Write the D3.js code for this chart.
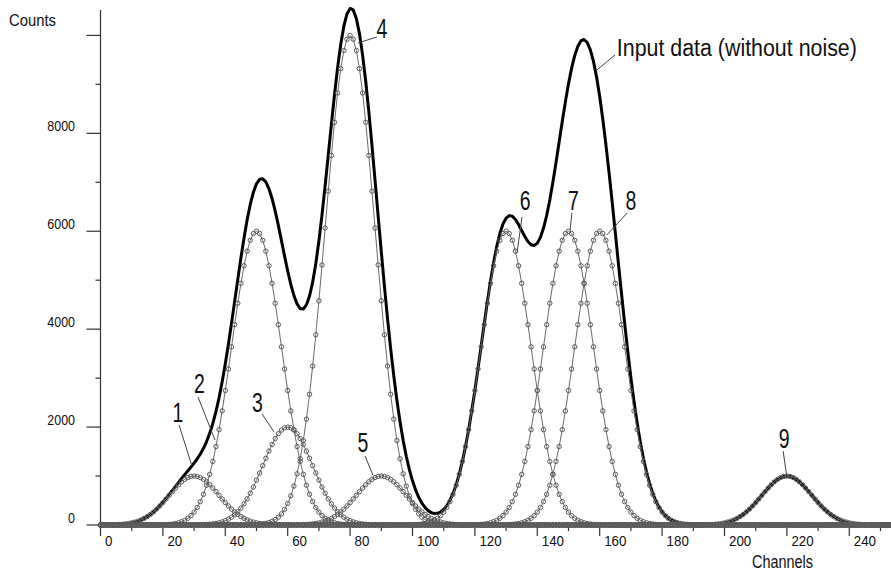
<!DOCTYPE html>
<html>
<head>
<meta charset="utf-8">
<script src="https://cdn.jsdelivr.net/npm/d3@7"></script>
<style>
  html, body { margin: 0; padding: 0; background: #fff; }
  svg { display: block; }
  text { font-family: "Liberation Sans", Arial, sans-serif; fill: #111; }
</style>
</head>
<body>
<svg id="chart" width="891" height="571"></svg>
<script>
// ---- data ----
const peakLabels     = ["1", "2", "3", "4", "5", "6", "7", "8", "9"];
const peakPositions  = [30, 50, 60, 80, 90, 130, 150, 160, 220];      // channel
const peakAmplitudes = [1000, 6000, 2000, 10000, 1000, 6000, 6000, 6000, 1000]; // counts
const peakSigmas     = [8, 8, 8, 8, 8, 8, 8, 8, 8];                    // channels
const channelCount   = 256;

const xTickValues = [0, 20, 40, 60, 80, 100, 120, 140, 160, 180, 200, 220, 240];
const yTickValues = [0, 2000, 4000, 6000, 8000];
const yUnlabeledTicks = [10000];

// annotation anchors in data units: [label, textChannel, textCount, lineFromCh, lineFromCnt, lineToCh, lineToCnt]
const annotations = [
  ["1", 24.8, 2104, 25.2, 2042, 29.3, 1205],
  ["2", 31.7, 2696, 31.25, 2614, 36.7, 1736],
  ["3", 50.3, 2308, 51.8, 2267, 55.6, 1900],
  ["4", 90.2, 9947, 88.6, 9967, 82.5, 9845],
  ["5", 84.1, 1491, 84.8, 1409, 87.3, 1021],
  ["6", 136.1, 6434, 135.1, 6291, 133.5, 5556],
  ["7", 151.6, 6434, 151.1, 6373, 150.5, 6025],
  ["8", 170.0, 6434, 168.8, 6373, 162.3, 5924],
  ["9", 219.1, 1573, 218.8, 1511, 219.9, 1021]
];
const inputLabel = ["Input data (without noise)", 165.5, 9579, 164.9, 9600, 159.1, 9293];

// ---- build series ----
const channels = d3.range(0, channelCount + 1);
const components = peakPositions.map((p, i) =>
  channels.map(c => ({ c, v: peakAmplitudes[i] * Math.exp(-((c - p) ** 2) / (2 * peakSigmas[i] ** 2)) }))
);
const total = channels.map((c, k) => ({ c, v: d3.sum(components, s => s[k].v) }));

// ---- scales ----
const x0 = 100.5, yBase = 525;
const x = d3.scaleLinear().domain([0, channelCount]).range([x0, x0 + channelCount * 3.12]);
const y = d3.scaleLinear().domain([0, 10519]).range([yBase, 10]);

const svg = d3.select("#chart");
const defs = svg.append("defs");
defs.append("clipPath").attr("id", "plotClip")
  .append("rect").attr("x", 0).attr("y", 0).attr("width", 891).attr("height", 571);

// axes lines
svg.append("line").attr("x1", x0).attr("x2", x0).attr("y1", 10).attr("y2", yBase)
  .attr("stroke", "#333").attr("stroke-width", 1.2);
svg.append("line").attr("x1", x0).attr("x2", 891).attr("y1", yBase).attr("y2", yBase)
  .attr("stroke", "#222").attr("stroke-width", 1.2);

// y ticks
const yMajor = yTickValues.concat(yUnlabeledTicks);
const yMinor = d3.range(1000, 10001, 2000);
svg.selectAll(".ymaj").data(yMajor).enter().append("line")
  .attr("x1", x0 - 14).attr("x2", x0).attr("y1", d => y(d)).attr("y2", d => y(d))
  .attr("stroke", "#333").attr("stroke-width", 1.2);
svg.selectAll(".ymin").data(yMinor).enter().append("line")
  .attr("x1", x0 - 5).attr("x2", x0).attr("y1", d => y(d)).attr("y2", d => y(d))
  .attr("stroke", "#333").attr("stroke-width", 1.2);
svg.selectAll(".ylab").data(yTickValues).enter().append("text")
  .attr("transform", d => `translate(75,${y(d) - 2}) scale(0.86,1)`).attr("text-anchor", "end")
  .attr("font-size", 14.5).text(d => d);

// x ticks
const xMinor = d3.range(10, 251, 20);
svg.selectAll(".xmaj").data(xTickValues).enter().append("line")
  .attr("x1", d => x(d)).attr("x2", d => x(d)).attr("y1", yBase).attr("y2", yBase + 11)
  .attr("stroke", "#333").attr("stroke-width", 1.2);
svg.selectAll(".xmin").data(xMinor).enter().append("line")
  .attr("x1", d => x(d)).attr("x2", d => x(d)).attr("y1", yBase).attr("y2", yBase + 6)
  .attr("stroke", "#333").attr("stroke-width", 1.2);
svg.selectAll(".xlab").data(xTickValues).enter().append("text")
  .attr("transform", d => `translate(${x(d) + 4.5},545.5) scale(0.86,1)`)
  .attr("font-size", 15.5).text(d => d);

// axis titles
svg.append("text").attr("x", 9).attr("y", 26).attr("font-size", 17)
  .attr("textLength", 47).attr("lengthAdjust", "spacingAndGlyphs").text("Counts");
svg.append("text").attr("x", 752).attr("y", 568).attr("font-size", 17.5)
  .attr("textLength", 61).attr("lengthAdjust", "spacingAndGlyphs").text("Channels");

const plot = svg.append("g").attr("clip-path", "url(#plotClip)");
const line = d3.line().x(d => x(d.c)).y(d => y(d.v));

// total (input data)
plot.append("path").datum(total).attr("d", line)
  .attr("fill", "none").attr("stroke", "#000").attr("stroke-width", 3).attr("stroke-linejoin", "round");

// components
components.forEach(series => {
  const g = plot.append("g");
  g.append("path").datum(series).attr("d", line)
    .attr("fill", "none").attr("stroke", "#6a6a6a").attr("stroke-width", 1);
  g.selectAll("circle").data(series).enter().append("circle")
    .attr("cx", d => x(d.c)).attr("cy", d => y(d.v)).attr("r", 2.2)
    .attr("fill", "none").attr("stroke", "#5a5a5a").attr("stroke-width", 1);
});

// annotations
annotations.forEach(a => {
  svg.append("line")
    .attr("x1", x(a[3])).attr("y1", y(a[4])).attr("x2", x(a[5])).attr("y2", y(a[6]))
    .attr("stroke", "#444").attr("stroke-width", 1);
  svg.append("text")
    .attr("transform", `translate(${x(a[1])},${y(a[2])}) scale(0.72,1)`)
    .attr("text-anchor", "middle").attr("font-size", 27).text(a[0]);
});
svg.append("line")
  .attr("x1", x(inputLabel[3])).attr("y1", y(inputLabel[4]))
  .attr("x2", x(inputLabel[5])).attr("y2", y(inputLabel[6]))
  .attr("stroke", "#444").attr("stroke-width", 1);
svg.append("text")
  .attr("x", x(inputLabel[1])).attr("y", y(inputLabel[2]))
  .attr("font-size", 23).attr("textLength", 240).attr("lengthAdjust", "spacingAndGlyphs")
  .text(inputLabel[0]);
</script>
</body>
</html>
